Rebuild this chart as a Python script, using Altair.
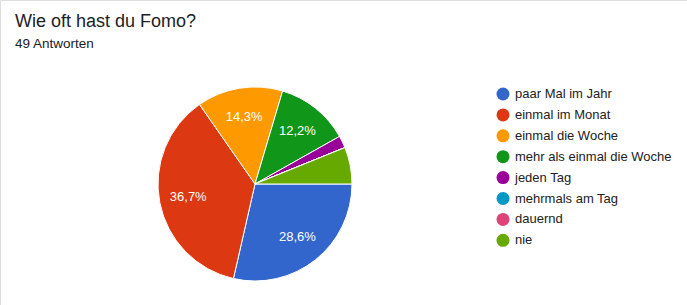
import math
import altair as alt
import pandas as pd

categories = ["paar Mal im Jahr", "einmal im Monat", "einmal die Woche",
              "mehr als einmal die Woche", "jeden Tag", "mehrmals am Tag",
              "dauernd", "nie"]
counts = [14, 18, 7, 6, 1, 0, 0, 3]
labels = ["28,6%", "36,7%", "14,3%", "12,2%", "", "", "", ""]
colors = ["#3366cc", "#dc3912", "#ff9900", "#109618", "#990099",
          "#0099c6", "#dd4477", "#66aa00"]
title_text = "Wie oft hast du Fomo?"
subtitle_text = "49 Antworten"

df = pd.DataFrame({"cat": categories, "n": counts, "label": labels,
                   "idx": list(range(len(categories)))})

FONT = "Liberation Sans"
CX, CY, R = 255, 184, 97

theta_scale = alt.Scale(range=[math.pi / 2, math.pi / 2 + 2 * math.pi])

base = alt.Chart(df).encode(
    theta=alt.Theta("n:Q", stack=True, scale=theta_scale),
    order=alt.Order("idx:Q"),
)

arcs = base.mark_arc(outerRadius=R, stroke="white", strokeWidth=1).encode(
    x=alt.value(CX), y=alt.value(CY),
    color=alt.Color("cat:N", scale=alt.Scale(domain=categories, range=colors),
                    sort=categories,
                    legend=alt.Legend(title=None, orient="none",
                                      legendX=496.5, legendY=87.5,
                                      symbolType="circle", symbolSize=169,
                                      symbolStrokeWidth=0, symbolOpacity=1,
                                      labelFontSize=13, labelFont=FONT,
                                      labelColor="#222222", labelOffset=5.5,
                                      rowPadding=6.9, padding=0)),
)

text = base.mark_text(radius=68, font=FONT, fontSize=13, color="white").encode(
    x=alt.value(CX), y=alt.value(CY),
    text="label:N",
)

tdf = pd.DataFrame({"t": [title_text], "s": [subtitle_text]})
title = alt.Chart(tdf).mark_text(align="left", baseline="alphabetic",
                                 font=FONT, fontSize=18, color="#202124").encode(
    x=alt.value(15), y=alt.value(27), text="t:N")
subtitle = alt.Chart(tdf).mark_text(align="left", baseline="alphabetic",
                                    font=FONT, fontSize=13.5, color="#202124").encode(
    x=alt.value(15), y=alt.value(48), text="s:N")

chart = alt.layer(arcs, text, title, subtitle).properties(
    width=687, height=305, autosize=alt.AutoSizeParams(type="none"),
    padding=0,
).configure_view(strokeWidth=0, stroke="transparent").configure(background="white")

chart.save("out.html", embed_options={"renderer": "svg", "actions": False})
